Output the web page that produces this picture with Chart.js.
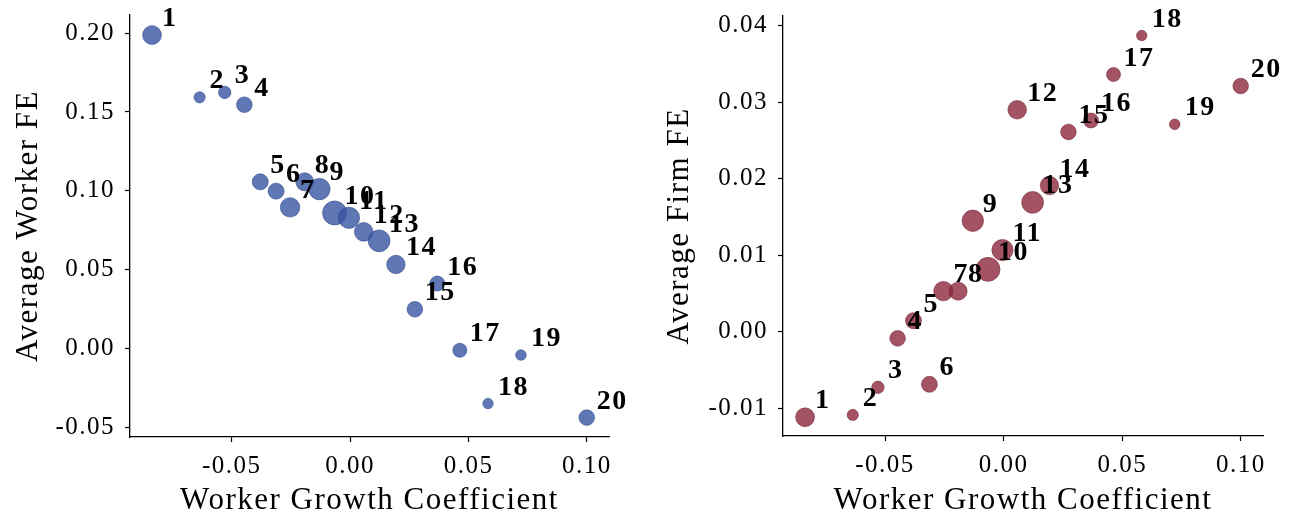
<!DOCTYPE html>
<html>
<head>
<meta charset="utf-8">
<script src="https://cdn.jsdelivr.net/npm/chart.js@4/dist/chart.umd.min.js"></script>
<style>
  html, body { margin: 0; padding: 0; background: #fff; }
  #wrap { position: relative; width: 1295px; height: 523px; }
  canvas { position: absolute; top: 0; }
  #left { left: 0; }
  #right { left: 647px; }
</style>
</head>
<body>
<div id="wrap">
  <canvas id="left" width="647" height="523"></canvas>
  <canvas id="right" width="648" height="523"></canvas>
</div>
<script>
// Group ids 1..20
const groups = ['1','2','3','4','5','6','7','8','9','10','11','12','13','14','15','16','17','18','19','20'];

// Worker growth coefficient per group (shared x values)
const growthCoef = [-0.0837, -0.0636, -0.0530, -0.0447, -0.0380, -0.0313, -0.0254, -0.0192, -0.0130, -0.0066,
                    -0.0005, 0.0057, 0.0122, 0.0193, 0.0273, 0.0368, 0.0463, 0.0582, 0.0721, 0.0999];

// Average worker fixed effect per group
const workerFE = [0.1988, 0.1593, 0.1624, 0.1546, 0.1057, 0.0998, 0.0895, 0.1057, 0.1011, 0.0860,
                  0.0829, 0.0740, 0.0683, 0.0533, 0.0249, 0.0412, -0.0011, -0.0349, -0.0041, -0.0438];

// Average firm fixed effect per group
const firmFE = [-0.01117, -0.01087, -0.00726, -0.00086, 0.00144, -0.00687, 0.00531, 0.00530, 0.01450, 0.00815,
                0.01067, 0.02900, 0.01690, 0.01910, 0.02610, 0.02760, 0.03360, 0.03870, 0.02710, 0.03210];

// Marker radius per group (group size)
const groupSize = [9.4, 5.6, 6.2, 7.8, 8.0, 8.0, 9.7, 9.0, 10.7, 12.0,
                   10.6, 9.3, 10.9, 9.2, 7.8, 7.5, 7.0, 5.2, 5.3, 7.8];

// Tick values
const xTicks = [-0.05, 0.00, 0.05, 0.10];
const workerTicks = [-0.05, 0.00, 0.05, 0.10, 0.15, 0.20];
const firmTicks = [-0.01, 0.00, 0.01, 0.02, 0.03, 0.04];

const SERIF = '"Liberation Serif", "Times New Roman", serif';

// Slightly wider letter spacing for all chart text
const textSpacing = {
  id: 'textSpacing',
  beforeDraw(chart) { chart.ctx.letterSpacing = '1.5px'; },
  afterDraw(chart) { chart.ctx.letterSpacing = '0px'; }
};

// Bold group number next to each marker
const pointLabels = {
  id: 'pointLabels',
  afterDatasetsDraw(chart) {
    const ctx = chart.ctx;
    const meta = chart.getDatasetMeta(0);
    ctx.save();
    ctx.font = 'bold 28px ' + SERIF;
    ctx.fillStyle = '#000';
    ctx.textAlign = 'left';
    ctx.textBaseline = 'alphabetic';
    meta.data.forEach((pt, i) => {
      ctx.fillText(groups[i], pt.x + 10, pt.y - 9);
    });
    ctx.restore();
  }
};

// Drop the label-overflow padding so the plot box follows layout.padding exactly
function noOverflow(s) {
  s.paddingTop = 0; s.paddingBottom = 0; s.paddingLeft = 0; s.paddingRight = 0;
}

function makeChart(id, yValues, yTicks, yRange, color, edge, yTitle, geom) {
  const data = growthCoef.map((x, i) => ({ x: x, y: yValues[i] }));
  return new Chart(document.getElementById(id), {
    type: 'scatter',
    data: {
      datasets: [{
        data: data,
        pointRadius: groupSize,
        pointHoverRadius: groupSize,
        backgroundColor: color,
        borderColor: edge,
        borderWidth: 0.6,
        clip: false
      }]
    },
    options: {
      responsive: false,
      animation: false,
      events: [],
      layout: { padding: { left: 0, top: geom.top, right: geom.right, bottom: 0 } },
      plugins: { legend: { display: false }, tooltip: { enabled: false } },
      scales: {
        x: {
          type: 'linear',
          min: -0.093,
          max: 0.1093,
          afterFit: s => { s.height = geom.xHeight; noOverflow(s); },
          afterBuildTicks: s => { s.ticks = xTicks.map(v => ({ value: v })); },
          border: { display: true, color: '#000', width: 1.3 },
          grid: { display: true, drawOnChartArea: false, drawTicks: true, tickLength: 5, tickColor: '#000', tickWidth: 1.2 },
          ticks: {
            color: '#000',
            padding: 9,
            maxRotation: 0,
            font: { family: SERIF, size: 25 },
            callback: v => v.toFixed(2)
          },
          title: {
            display: true,
            text: 'Worker Growth Coefficient',
            color: '#000',
            font: { family: SERIF, size: 31 },
            padding: { top: 0, bottom: 4 }
          }
        },
        y: {
          type: 'linear',
          min: yRange[0],
          max: yRange[1],
          afterFit: s => { s.width = geom.yWidth; noOverflow(s); },
          afterBuildTicks: s => { s.ticks = yTicks.map(v => ({ value: v })); },
          border: { display: true, color: '#000', width: 1.3 },
          grid: { display: true, drawOnChartArea: false, drawTicks: true, tickLength: 5, tickColor: '#000', tickWidth: 1.2 },
          ticks: {
            color: '#000',
            padding: 10,
            font: { family: SERIF, size: 25 },
            callback: v => v.toFixed(2)
          },
          title: {
            display: true,
            text: yTitle,
            color: '#000',
            font: { family: SERIF, size: 31 },
            padding: { top: geom.titlePad, bottom: 0 }
          }
        }
      }
    },
    plugins: [textSpacing, pointLabels]
  });
}

makeChart('left', workerFE, workerTicks, [-0.0561, 0.2115],
  'rgba(55, 85, 162, 0.8)', 'rgba(40, 60, 130, 0.9)', 'Average Worker FE',
  { top: 15, right: 38, xHeight: 86, yWidth: 130, titlePad: 10 });

makeChart('right', firmFE, firmTicks, [-0.01362, 0.04125],
  'rgba(140, 40, 60, 0.8)', 'rgba(110, 30, 45, 0.9)', 'Average Firm FE',
  { top: 16, right: 32, xHeight: 87, yWidth: 136, titlePad: 14 });
</script>
</body>
</html>
